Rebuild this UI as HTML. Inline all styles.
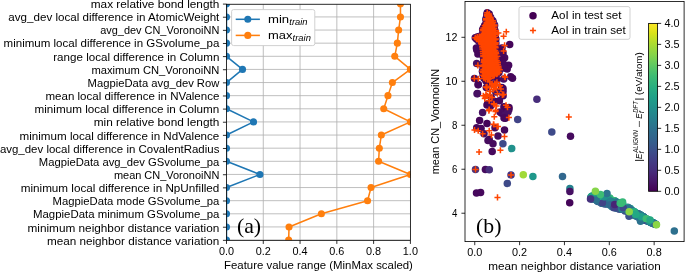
<!DOCTYPE html>
<html><head><meta charset="utf-8"><style>
html,body{margin:0;padding:0;background:#fff;width:685px;height:273px;overflow:hidden}
svg{display:block;will-change:transform;font-family:"Liberation Sans", sans-serif}
</style></head><body>
<svg width="685" height="273" viewBox="0 0 685 273">
<defs><clipPath id="ca"><rect x="226.5" y="4.25" width="183.9" height="236.1"/></clipPath>
<clipPath id="cb"><rect x="465" y="1.5" width="219.1" height="240.1"/></clipPath>
<linearGradient id="vg" x1="0" y1="0" x2="0" y2="1"><stop offset="0" stop-color="#fde725"/><stop offset="0.06" stop-color="#d8e219"/><stop offset="0.12" stop-color="#addc30"/><stop offset="0.19" stop-color="#84d44b"/><stop offset="0.25" stop-color="#5ec962"/><stop offset="0.31" stop-color="#3fbc73"/><stop offset="0.38" stop-color="#28ae80"/><stop offset="0.44" stop-color="#1fa088"/><stop offset="0.5" stop-color="#21918c"/><stop offset="0.56" stop-color="#26828e"/><stop offset="0.62" stop-color="#2c728e"/><stop offset="0.69" stop-color="#33638d"/><stop offset="0.75" stop-color="#3b528b"/><stop offset="0.81" stop-color="#424086"/><stop offset="0.88" stop-color="#472d7b"/><stop offset="0.94" stop-color="#48186a"/><stop offset="1" stop-color="#440154"/></linearGradient>
</defs>
<rect x="0" y="0" width="685" height="273" fill="#fff"/>
<path d="M263.28 4.25V240.35M300.06 4.25V240.35M336.84 4.25V240.35M373.62 4.25V240.35M226.5 3.8H410.4M226.5 16.93H410.4M226.5 30.05H410.4M226.5 43.17H410.4M226.5 56.3H410.4M226.5 69.42H410.4M226.5 82.55H410.4M226.5 95.67H410.4M226.5 108.8H410.4M226.5 121.92H410.4M226.5 135.05H410.4M226.5 148.18H410.4M226.5 161.3H410.4M226.5 174.43H410.4M226.5 187.55H410.4M226.5 200.68H410.4M226.5 213.8H410.4M226.5 226.93H410.4M226.5 240.05H410.4" stroke="#b0b0b0" stroke-width="0.82" fill="none" clip-path="url(#ca)"/>
<text x="236.9" y="232.7" font-family="'Liberation Serif', serif" font-size="20.6" textLength="24.2" lengthAdjust="spacingAndGlyphs" fill="#000">(a)</text>
<g clip-path="url(#ca)">
<polyline points="226.5,3.8 226.5,16.93 226.5,30.05 226.5,43.17 226.5,56.3 242.5,69.42 226.5,82.55 226.5,95.67 226.5,108.8 253.53,121.92 226.5,135.05 226.5,148.18 226.5,161.3 259.97,174.43 226.5,187.55 226.5,200.68 226.5,213.8 226.5,226.93 226.5,240.05" fill="none" stroke="#1f77b4" stroke-width="1.53" stroke-linejoin="round"/>
<circle cx="226.5" cy="3.8" r="3.55" fill="#1f77b4"/>
<circle cx="226.5" cy="16.93" r="3.55" fill="#1f77b4"/>
<circle cx="226.5" cy="30.05" r="3.55" fill="#1f77b4"/>
<circle cx="226.5" cy="43.17" r="3.55" fill="#1f77b4"/>
<circle cx="226.5" cy="56.3" r="3.55" fill="#1f77b4"/>
<circle cx="242.5" cy="69.42" r="3.55" fill="#1f77b4"/>
<circle cx="226.5" cy="82.55" r="3.55" fill="#1f77b4"/>
<circle cx="226.5" cy="95.67" r="3.55" fill="#1f77b4"/>
<circle cx="226.5" cy="108.8" r="3.55" fill="#1f77b4"/>
<circle cx="253.53" cy="121.92" r="3.55" fill="#1f77b4"/>
<circle cx="226.5" cy="135.05" r="3.55" fill="#1f77b4"/>
<circle cx="226.5" cy="148.18" r="3.55" fill="#1f77b4"/>
<circle cx="226.5" cy="161.3" r="3.55" fill="#1f77b4"/>
<circle cx="259.97" cy="174.43" r="3.55" fill="#1f77b4"/>
<circle cx="226.5" cy="187.55" r="3.55" fill="#1f77b4"/>
<circle cx="226.5" cy="200.68" r="3.55" fill="#1f77b4"/>
<circle cx="226.5" cy="213.8" r="3.55" fill="#1f77b4"/>
<circle cx="226.5" cy="226.93" r="3.55" fill="#1f77b4"/>
<circle cx="226.5" cy="240.05" r="3.55" fill="#1f77b4"/>
<polyline points="400.47,3.8 400.47,16.93 398.63,30.05 397.34,43.17 394.77,56.3 410.4,69.42 392.38,82.55 387.96,95.67 383.73,108.8 410.4,121.92 381.34,135.05 379.32,148.18 378.59,161.3 410.4,174.43 371.05,187.55 367.55,200.68 321.39,213.8 289.03,226.93 288.66,240.05" fill="none" stroke="#ff7f0e" stroke-width="1.53" stroke-linejoin="round"/>
<circle cx="400.47" cy="3.8" r="3.55" fill="#ff7f0e"/>
<circle cx="400.47" cy="16.93" r="3.55" fill="#ff7f0e"/>
<circle cx="398.63" cy="30.05" r="3.55" fill="#ff7f0e"/>
<circle cx="397.34" cy="43.17" r="3.55" fill="#ff7f0e"/>
<circle cx="394.77" cy="56.3" r="3.55" fill="#ff7f0e"/>
<circle cx="410.4" cy="69.42" r="3.55" fill="#ff7f0e"/>
<circle cx="392.38" cy="82.55" r="3.55" fill="#ff7f0e"/>
<circle cx="387.96" cy="95.67" r="3.55" fill="#ff7f0e"/>
<circle cx="383.73" cy="108.8" r="3.55" fill="#ff7f0e"/>
<circle cx="410.4" cy="121.92" r="3.55" fill="#ff7f0e"/>
<circle cx="381.34" cy="135.05" r="3.55" fill="#ff7f0e"/>
<circle cx="379.32" cy="148.18" r="3.55" fill="#ff7f0e"/>
<circle cx="378.59" cy="161.3" r="3.55" fill="#ff7f0e"/>
<circle cx="410.4" cy="174.43" r="3.55" fill="#ff7f0e"/>
<circle cx="371.05" cy="187.55" r="3.55" fill="#ff7f0e"/>
<circle cx="367.55" cy="200.68" r="3.55" fill="#ff7f0e"/>
<circle cx="321.39" cy="213.8" r="3.55" fill="#ff7f0e"/>
<circle cx="289.03" cy="226.93" r="3.55" fill="#ff7f0e"/>
<circle cx="288.66" cy="240.05" r="3.55" fill="#ff7f0e"/>
</g>
<rect x="226.5" y="4.25" width="183.9" height="236.1" fill="none" stroke="#000" stroke-width="0.82"/>
<path d="M222.93 4.1H226.5M222.93 17.23H226.5M222.93 30.35H226.5M222.93 43.47H226.5M222.93 56.6H226.5M222.93 69.72H226.5M222.93 82.85H226.5M222.93 95.97H226.5M222.93 109.1H226.5M222.93 122.22H226.5M222.93 135.35H226.5M222.93 148.48H226.5M222.93 161.6H226.5M222.93 174.73H226.5M222.93 187.85H226.5M222.93 200.98H226.5M222.93 214.1H226.5M222.93 227.23H226.5M222.93 240.35H226.5M226.5 240.35V243.92M263.28 240.35V243.92M300.06 240.35V243.92M336.84 240.35V243.92M373.62 240.35V243.92M410.4 240.35V243.92" stroke="#000" stroke-width="0.82" fill="none"/>
<text x="219.36" y="8.05" font-size="10.75" text-anchor="end" textLength="128.59" lengthAdjust="spacingAndGlyphs" fill="#000">max relative bond length</text>
<text x="219.36" y="21.18" font-size="10.75" text-anchor="end" textLength="210.99" lengthAdjust="spacingAndGlyphs" fill="#000">avg_dev local difference in AtomicWeight</text>
<text x="219.36" y="34.3" font-size="10.75" text-anchor="end" textLength="119.18" lengthAdjust="spacingAndGlyphs" fill="#000">avg_dev CN_VoronoiNN</text>
<text x="219.36" y="47.42" font-size="10.75" text-anchor="end" textLength="215.78" lengthAdjust="spacingAndGlyphs" fill="#000">minimum local difference in GSvolume_pa</text>
<text x="219.36" y="60.55" font-size="10.75" text-anchor="end" textLength="166.11" lengthAdjust="spacingAndGlyphs" fill="#000">range local difference in Column</text>
<text x="219.36" y="73.67" font-size="10.75" text-anchor="end" textLength="127.92" lengthAdjust="spacingAndGlyphs" fill="#000">maximum CN_VoronoiNN</text>
<text x="219.36" y="86.8" font-size="10.75" text-anchor="end" textLength="131.81" lengthAdjust="spacingAndGlyphs" fill="#000">MagpieData avg_dev Row</text>
<text x="219.36" y="99.92" font-size="10.75" text-anchor="end" textLength="173.84" lengthAdjust="spacingAndGlyphs" fill="#000">mean local difference in NValence</text>
<text x="219.36" y="113.05" font-size="10.75" text-anchor="end" textLength="184.85" lengthAdjust="spacingAndGlyphs" fill="#000">minimum local difference in Column</text>
<text x="219.36" y="126.17" font-size="10.75" text-anchor="end" textLength="125.6" lengthAdjust="spacingAndGlyphs" fill="#000">min relative bond length</text>
<text x="219.36" y="140" font-size="10.75" text-anchor="end" textLength="199.79" lengthAdjust="spacingAndGlyphs" fill="#000">minimum local difference in NdValence</text>
<text x="219.36" y="153" font-size="10.75" text-anchor="end" textLength="219.46" lengthAdjust="spacingAndGlyphs" fill="#000">avg_dev local difference in CovalentRadius</text>
<text x="219.36" y="165.55" font-size="10.75" text-anchor="end" textLength="180.59" lengthAdjust="spacingAndGlyphs" fill="#000">MagpieData avg_dev GSvolume_pa</text>
<text x="219.36" y="178.68" font-size="10.75" text-anchor="end" textLength="105.46" lengthAdjust="spacingAndGlyphs" fill="#000">mean CN_VoronoiNN</text>
<text x="219.36" y="191.8" font-size="10.75" text-anchor="end" textLength="198.67" lengthAdjust="spacingAndGlyphs" fill="#000">minimum local difference in NpUnfilled</text>
<text x="219.36" y="204.93" font-size="10.75" text-anchor="end" textLength="166.87" lengthAdjust="spacingAndGlyphs" fill="#000">MagpieData mode GSvolume_pa</text>
<text x="219.36" y="218.05" font-size="10.75" text-anchor="end" textLength="186.34" lengthAdjust="spacingAndGlyphs" fill="#000">MagpieData minimum GSvolume_pa</text>
<text x="219.36" y="232" font-size="10.75" text-anchor="end" textLength="191.87" lengthAdjust="spacingAndGlyphs" fill="#000">minimum neighbor distance variation</text>
<text x="219.36" y="245" font-size="10.75" text-anchor="end" textLength="172.4" lengthAdjust="spacingAndGlyphs" fill="#000">mean neighbor distance variation</text>
<text x="226.5" y="255.1" font-size="10.75" text-anchor="middle" textLength="15.12" lengthAdjust="spacingAndGlyphs" fill="#000">0.0</text>
<text x="263.28" y="255.1" font-size="10.75" text-anchor="middle" textLength="15.12" lengthAdjust="spacingAndGlyphs" fill="#000">0.2</text>
<text x="300.06" y="255.1" font-size="10.75" text-anchor="middle" textLength="15.12" lengthAdjust="spacingAndGlyphs" fill="#000">0.4</text>
<text x="336.84" y="255.1" font-size="10.75" text-anchor="middle" textLength="15.12" lengthAdjust="spacingAndGlyphs" fill="#000">0.6</text>
<text x="373.62" y="255.1" font-size="10.75" text-anchor="middle" textLength="15.12" lengthAdjust="spacingAndGlyphs" fill="#000">0.8</text>
<text x="410.4" y="255.1" font-size="10.75" text-anchor="middle" textLength="15.12" lengthAdjust="spacingAndGlyphs" fill="#000">1.0</text>
<text x="318.45" y="268.8" font-size="10.75" text-anchor="middle" textLength="188.93" lengthAdjust="spacingAndGlyphs" fill="#000">Feature value range (MinMax scaled)</text>
<rect x="231.6" y="9.6" width="83.2" height="36.0" rx="2" fill="#fff" stroke="#cccccc" stroke-width="0.9"/>
<path d="M235.7 19.3H259.9" stroke="#1f77b4" stroke-width="1.53"/>
<circle cx="247.8" cy="19.3" r="3.55" fill="#1f77b4"/>
<text x="268" y="22.7" font-size="11.83" text-anchor="start" textLength="21.16" lengthAdjust="spacingAndGlyphs" fill="#000">min</text>
<text x="289.31" y="24.54" font-size="8.28" text-anchor="start" textLength="18.28" lengthAdjust="spacingAndGlyphs" font-style="italic" fill="#000">train</text>
<path d="M235.7 35.4H259.9" stroke="#ff7f0e" stroke-width="1.53"/>
<circle cx="247.8" cy="35.4" r="3.55" fill="#ff7f0e"/>
<text x="268" y="38.8" font-size="11.83" text-anchor="start" textLength="24.45" lengthAdjust="spacingAndGlyphs" fill="#000">max</text>
<text x="292.6" y="40.64" font-size="8.28" text-anchor="start" textLength="18.28" lengthAdjust="spacingAndGlyphs" font-style="italic" fill="#000">train</text>
<g clip-path="url(#cb)">
<circle cx="487.26" cy="12.65" r="3.75" fill="#450559"/><circle cx="486.87" cy="14.56" r="3.75" fill="#440154"/><circle cx="487.01" cy="15.91" r="3.75" fill="#46085c"/><circle cx="486.03" cy="18.82" r="3.75" fill="#450559"/><circle cx="486.02" cy="20.08" r="3.75" fill="#48186a"/><circle cx="486.6" cy="22.34" r="3.75" fill="#471063"/><circle cx="486.05" cy="24.31" r="3.75" fill="#46085c"/><circle cx="484.68" cy="25.56" r="3.75" fill="#450559"/><circle cx="483.45" cy="28" r="3.75" fill="#440154"/><circle cx="482.68" cy="29.7" r="3.75" fill="#440154"/><circle cx="483.29" cy="30.81" r="3.75" fill="#48186a"/><circle cx="483.91" cy="33.36" r="3.75" fill="#450559"/><circle cx="482.54" cy="34.45" r="3.75" fill="#46085c"/><circle cx="481.37" cy="35.66" r="3.75" fill="#48186a"/><circle cx="479.23" cy="36.53" r="3.75" fill="#450559"/><circle cx="477.26" cy="36.96" r="3.75" fill="#46085c"/><circle cx="475.29" cy="37.69" r="3.75" fill="#46085c"/><circle cx="476.77" cy="39.26" r="3.75" fill="#440154"/><circle cx="478.58" cy="39.78" r="3.75" fill="#48186a"/><circle cx="478.92" cy="41.5" r="3.75" fill="#46085c"/><circle cx="481.13" cy="43.35" r="3.75" fill="#48186a"/><circle cx="481.86" cy="44.83" r="3.75" fill="#450559"/><circle cx="482.2" cy="46.87" r="3.75" fill="#471063"/><circle cx="482.45" cy="49.06" r="3.75" fill="#46085c"/><circle cx="482.9" cy="51.43" r="3.75" fill="#48186a"/><circle cx="483.02" cy="53.46" r="3.75" fill="#46085c"/><circle cx="483.24" cy="55.54" r="3.75" fill="#471063"/><circle cx="483.25" cy="56.53" r="3.75" fill="#46085c"/><circle cx="483.72" cy="59.48" r="3.75" fill="#471063"/><circle cx="483.89" cy="61" r="3.75" fill="#46085c"/><circle cx="483.66" cy="62.57" r="3.75" fill="#471063"/><circle cx="483.8" cy="65" r="3.75" fill="#48186a"/><circle cx="482.93" cy="66.38" r="3.75" fill="#471063"/><circle cx="483.37" cy="69.48" r="3.75" fill="#440154"/><circle cx="482.43" cy="71.24" r="3.75" fill="#471063"/><circle cx="483.05" cy="72.45" r="3.75" fill="#450559"/><circle cx="483.15" cy="75.17" r="3.75" fill="#450559"/><circle cx="484.04" cy="76.29" r="3.75" fill="#440154"/><circle cx="483.93" cy="78.29" r="3.75" fill="#471063"/><circle cx="485.63" cy="79.08" r="3.75" fill="#48186a"/><circle cx="487.75" cy="79.37" r="3.75" fill="#48186a"/><circle cx="489.16" cy="78.65" r="3.75" fill="#471063"/><circle cx="490.78" cy="76.8" r="3.75" fill="#48186a"/><circle cx="492.92" cy="75.85" r="3.75" fill="#450559"/><circle cx="494.23" cy="75.41" r="3.75" fill="#440154"/><circle cx="496.44" cy="74.1" r="3.75" fill="#471063"/><circle cx="497.36" cy="73.76" r="3.75" fill="#48186a"/><circle cx="498.96" cy="72.42" r="3.75" fill="#46085c"/><circle cx="499.74" cy="69.81" r="3.75" fill="#48186a"/><circle cx="498.73" cy="68.04" r="3.75" fill="#46085c"/><circle cx="498.47" cy="66.19" r="3.75" fill="#450559"/><circle cx="497.89" cy="64.27" r="3.75" fill="#440154"/><circle cx="497.88" cy="62.19" r="3.75" fill="#48186a"/><circle cx="496.81" cy="60.5" r="3.75" fill="#46085c"/><circle cx="496.25" cy="58.03" r="3.75" fill="#440154"/><circle cx="496.99" cy="56.3" r="3.75" fill="#450559"/><circle cx="496.32" cy="53.69" r="3.75" fill="#440154"/><circle cx="496.01" cy="52.38" r="3.75" fill="#440154"/><circle cx="495.22" cy="50.45" r="3.75" fill="#48186a"/><circle cx="495.63" cy="47.8" r="3.75" fill="#450559"/><circle cx="495.36" cy="46.31" r="3.75" fill="#471063"/><circle cx="495.6" cy="44.18" r="3.75" fill="#48186a"/><circle cx="495.81" cy="42.65" r="3.75" fill="#440154"/><circle cx="495.17" cy="39.85" r="3.75" fill="#440154"/><circle cx="495.86" cy="38.94" r="3.75" fill="#471063"/><circle cx="495.17" cy="36.34" r="3.75" fill="#440154"/><circle cx="495.41" cy="34.18" r="3.75" fill="#450559"/><circle cx="495.2" cy="32.17" r="3.75" fill="#48186a"/><circle cx="494.86" cy="30.57" r="3.75" fill="#46085c"/><circle cx="494.21" cy="28.38" r="3.75" fill="#450559"/><circle cx="494.46" cy="26.01" r="3.75" fill="#440154"/><circle cx="494.55" cy="24.9" r="3.75" fill="#48186a"/><circle cx="493.24" cy="22.55" r="3.75" fill="#48186a"/><circle cx="492.81" cy="20.84" r="3.75" fill="#471063"/><circle cx="491.03" cy="19.37" r="3.75" fill="#440154"/><circle cx="490.59" cy="17.27" r="3.75" fill="#48186a"/><circle cx="489.29" cy="15.74" r="3.75" fill="#440154"/><circle cx="489.18" cy="14" r="3.75" fill="#46085c"/><circle cx="476.4" cy="48" r="3.75" fill="#46085c"/><circle cx="476.7" cy="49.7" r="3.75" fill="#460b5e"/><circle cx="477.9" cy="54" r="3.75" fill="#46085c"/><circle cx="476.7" cy="63.6" r="3.75" fill="#471063"/><circle cx="509.7" cy="44.5" r="3.75" fill="#450559"/><circle cx="504.6" cy="57.7" r="3.75" fill="#460b5e"/><circle cx="508.6" cy="65.3" r="3.75" fill="#46085c"/><circle cx="507.2" cy="69" r="3.75" fill="#46085c"/><circle cx="502" cy="48" r="3.75" fill="#450559"/><circle cx="503" cy="53" r="3.75" fill="#46085c"/><circle cx="502.5" cy="60" r="3.75" fill="#450559"/><circle cx="503.5" cy="64" r="3.75" fill="#46085c"/><circle cx="504" cy="68" r="3.75" fill="#46085c"/><circle cx="512.5" cy="78.3" r="3.75" fill="#460b5e"/><circle cx="474.5" cy="78.4" r="3.75" fill="#46085c"/><circle cx="503" cy="88.6" r="3.75" fill="#450559"/><circle cx="503.7" cy="79" r="3.75" fill="#471063"/><circle cx="497" cy="80" r="3.75" fill="#46085c"/><circle cx="492" cy="84" r="3.75" fill="#471063"/><circle cx="478.2" cy="84.7" r="3.75" fill="#450559"/><circle cx="477.5" cy="93.5" r="3.75" fill="#460b5e"/><circle cx="486.3" cy="87.6" r="3.75" fill="#46085c"/><circle cx="501.7" cy="87.6" r="3.75" fill="#460b5e"/><circle cx="503.1" cy="95.7" r="3.75" fill="#46085c"/><circle cx="487.7" cy="103.7" r="3.75" fill="#46085c"/><circle cx="495" cy="101.5" r="3.75" fill="#46085c"/><circle cx="503.9" cy="106.7" r="3.75" fill="#471063"/><circle cx="509" cy="107.4" r="3.75" fill="#450559"/><circle cx="495.8" cy="92" r="3.75" fill="#471063"/><circle cx="491.4" cy="97.9" r="3.75" fill="#460b5e"/><circle cx="487" cy="105.1" r="3.75" fill="#450559"/><circle cx="490.6" cy="105.9" r="3.75" fill="#450559"/><circle cx="499.4" cy="100.7" r="3.75" fill="#46085c"/><circle cx="504.5" cy="107.3" r="3.75" fill="#450559"/><circle cx="508.9" cy="109.5" r="3.75" fill="#450559"/><circle cx="501.6" cy="113.2" r="3.75" fill="#450559"/><circle cx="505.3" cy="118.3" r="3.75" fill="#450559"/><circle cx="482.6" cy="112.4" r="3.75" fill="#471063"/><circle cx="479.6" cy="120.5" r="3.75" fill="#450559"/><circle cx="487" cy="123.4" r="3.75" fill="#450559"/><circle cx="476.7" cy="127.8" r="3.75" fill="#46085c"/><circle cx="481.1" cy="128.5" r="3.75" fill="#46085c"/><circle cx="484" cy="133.7" r="3.75" fill="#471063"/><circle cx="495" cy="127.8" r="3.75" fill="#460b5e"/><circle cx="504.5" cy="130" r="3.75" fill="#46085c"/><circle cx="498" cy="135.9" r="3.75" fill="#460b5e"/><circle cx="489.2" cy="139.5" r="3.75" fill="#450559"/><circle cx="500" cy="112" r="3.75" fill="#460b5e"/><circle cx="505" cy="115" r="3.75" fill="#471063"/><circle cx="508" cy="112" r="3.75" fill="#471063"/><circle cx="504" cy="118" r="3.75" fill="#46085c"/><circle cx="493" cy="143.8" r="3.75" fill="#460b5e"/><circle cx="488" cy="140.5" r="3.75" fill="#460b5e"/><circle cx="502.9" cy="143.8" r="3.75" fill="#3e4a89"/><circle cx="517.7" cy="119.4" r="3.75" fill="#414487"/><circle cx="536.9" cy="99.3" r="3.75" fill="#472d7b"/><circle cx="551.8" cy="132.1" r="3.75" fill="#3e4a89"/><circle cx="570.5" cy="136.2" r="3.75" fill="#460b5e"/><circle cx="511.7" cy="148.6" r="3.75" fill="#21918c"/><circle cx="492.2" cy="151.4" r="3.75" fill="#46085c"/><circle cx="475.5" cy="169.4" r="3.75" fill="#46327e"/><circle cx="485.4" cy="169.4" r="3.75" fill="#460b5e"/><circle cx="489.3" cy="169.8" r="3.75" fill="#472d7b"/><circle cx="511" cy="175" r="3.75" fill="#46327e"/><circle cx="523.3" cy="174.8" r="3.75" fill="#a0da39"/><circle cx="532.9" cy="176.4" r="3.75" fill="#1f988b"/><circle cx="562.5" cy="176.5" r="3.75" fill="#31688e"/><circle cx="507.3" cy="183.4" r="3.75" fill="#3e4a89"/><circle cx="569.9" cy="188.4" r="3.75" fill="#26828e"/><circle cx="569.9" cy="191.4" r="3.75" fill="#471063"/><circle cx="569.7" cy="202.7" r="3.75" fill="#450559"/><circle cx="476.5" cy="192.9" r="3.75" fill="#46085c"/><circle cx="480.6" cy="192.4" r="3.75" fill="#46085c"/><circle cx="674.3" cy="231" r="3.75" fill="#2d708e"/><circle cx="478.2" cy="84.5" r="3.75" fill="#450559"/><circle cx="477.1" cy="93.8" r="3.75" fill="#471063"/><circle cx="486" cy="81" r="3.75" fill="#450559"/><circle cx="489" cy="83" r="3.75" fill="#46085c"/><circle cx="501.9" cy="87.8" r="3.75" fill="#46085c"/><circle cx="510.7" cy="76.8" r="3.75" fill="#450559"/><circle cx="503" cy="91.6" r="3.75" fill="#460b5e"/><circle cx="607.8" cy="198.65" r="3.75" fill="#26828e"/><circle cx="593.79" cy="197.8" r="3.75" fill="#2c728e"/><circle cx="625" cy="210.96" r="3.75" fill="#3b528b"/><circle cx="592.26" cy="197.42" r="3.75" fill="#21918c"/><circle cx="602.77" cy="200.26" r="3.75" fill="#31688e"/><circle cx="642.74" cy="216.66" r="3.75" fill="#2a788e"/><circle cx="628.38" cy="210.43" r="3.75" fill="#31688e"/><circle cx="624.61" cy="207.66" r="3.75" fill="#2a788e"/><circle cx="592.64" cy="198.59" r="3.75" fill="#2c728e"/><circle cx="613.9" cy="204.22" r="3.75" fill="#3e4a89"/><circle cx="606.85" cy="203.95" r="3.75" fill="#3b528b"/><circle cx="595.25" cy="198.32" r="3.75" fill="#3b528b"/><circle cx="610.87" cy="203.11" r="3.75" fill="#31688e"/><circle cx="623.72" cy="208.65" r="3.75" fill="#414487"/><circle cx="631.95" cy="211.48" r="3.75" fill="#2c728e"/><circle cx="616.97" cy="208.26" r="3.75" fill="#2c728e"/><circle cx="606.31" cy="203.57" r="3.75" fill="#2a788e"/><circle cx="639.23" cy="214.29" r="3.75" fill="#31688e"/><circle cx="621.01" cy="209.24" r="3.75" fill="#2a788e"/><circle cx="615.86" cy="205.5" r="3.75" fill="#31688e"/><circle cx="596.01" cy="197.78" r="3.75" fill="#2c728e"/><circle cx="597.78" cy="198.5" r="3.75" fill="#26828e"/><circle cx="653.05" cy="222.8" r="3.75" fill="#2c728e"/><circle cx="608.82" cy="200.7" r="3.75" fill="#22a884"/><circle cx="624.8" cy="208.12" r="3.75" fill="#21918c"/><circle cx="651.71" cy="222.42" r="3.75" fill="#21918c"/><circle cx="593.25" cy="198.19" r="3.75" fill="#2a788e"/><circle cx="624.66" cy="209.43" r="3.75" fill="#414487"/><circle cx="605.39" cy="199.79" r="3.75" fill="#2c728e"/><circle cx="591.69" cy="197.58" r="3.75" fill="#1f9e89"/><circle cx="626.98" cy="209.32" r="3.75" fill="#2a788e"/><circle cx="638.37" cy="213.96" r="3.75" fill="#2a788e"/><circle cx="612.51" cy="206.76" r="3.75" fill="#414487"/><circle cx="594.17" cy="197.57" r="3.75" fill="#31688e"/><circle cx="647.01" cy="220.79" r="3.75" fill="#26828e"/><circle cx="622.74" cy="208.8" r="3.75" fill="#2c728e"/><circle cx="632.12" cy="211.34" r="3.75" fill="#2a788e"/><circle cx="597.72" cy="196.64" r="3.75" fill="#2a788e"/><circle cx="630.37" cy="208.41" r="3.75" fill="#1f9e89"/><circle cx="604.07" cy="196.11" r="3.75" fill="#35b779"/><circle cx="621.66" cy="207.72" r="3.75" fill="#2c728e"/><circle cx="652.36" cy="222.89" r="3.75" fill="#3e4a89"/><circle cx="652.14" cy="222.77" r="3.75" fill="#2a788e"/><circle cx="592.96" cy="198.7" r="3.75" fill="#26828e"/><circle cx="652.27" cy="222.85" r="3.75" fill="#3e4a89"/><circle cx="612.15" cy="202.38" r="3.75" fill="#21918c"/><circle cx="618.04" cy="204.8" r="3.75" fill="#2a788e"/><circle cx="593.55" cy="196.65" r="3.75" fill="#1f9e89"/><circle cx="595.59" cy="198.55" r="3.75" fill="#31688e"/><circle cx="591" cy="196.93" r="3.75" fill="#21918c"/><circle cx="652.04" cy="222.69" r="3.75" fill="#31688e"/><circle cx="646.33" cy="220.04" r="3.75" fill="#3b528b"/><circle cx="628.65" cy="212.56" r="3.75" fill="#3e4a89"/><circle cx="610.34" cy="199.3" r="3.75" fill="#22a884"/><circle cx="655.46" cy="224.2" r="3.75" fill="#22a884"/><circle cx="607.06" cy="198.34" r="3.75" fill="#2c728e"/><circle cx="636.31" cy="214.27" r="3.75" fill="#1f9e89"/><circle cx="620.41" cy="204.43" r="3.75" fill="#2c728e"/><circle cx="597.49" cy="198.76" r="3.75" fill="#31688e"/><circle cx="637.62" cy="214.24" r="3.75" fill="#21918c"/><circle cx="633.09" cy="211.34" r="3.75" fill="#2c728e"/><circle cx="648.91" cy="220.89" r="3.75" fill="#2a788e"/><circle cx="621.52" cy="208.79" r="3.75" fill="#2c728e"/><circle cx="628.79" cy="210.77" r="3.75" fill="#26828e"/><circle cx="654.83" cy="224.02" r="3.75" fill="#26828e"/><circle cx="602.69" cy="198.97" r="3.75" fill="#2a788e"/><circle cx="600.42" cy="199.11" r="3.75" fill="#26828e"/><circle cx="655.19" cy="224.15" r="3.75" fill="#414487"/><circle cx="603.86" cy="201.84" r="3.75" fill="#2c728e"/><circle cx="615.75" cy="207.97" r="3.75" fill="#2c728e"/><circle cx="652.51" cy="222.72" r="3.75" fill="#2a788e"/><circle cx="595.21" cy="197.86" r="3.75" fill="#2c728e"/><circle cx="600.67" cy="200.18" r="3.75" fill="#3e4a89"/><circle cx="643.76" cy="218.4" r="3.75" fill="#2c728e"/><circle cx="640.7" cy="215.23" r="3.75" fill="#21918c"/><circle cx="649.03" cy="221.57" r="3.75" fill="#26828e"/><circle cx="600.38" cy="202.1" r="3.75" fill="#414487"/><circle cx="639.92" cy="215.77" r="3.75" fill="#35b779"/><circle cx="616.81" cy="206.86" r="3.75" fill="#31688e"/><circle cx="635.17" cy="212.18" r="3.75" fill="#1f9e89"/><circle cx="591.87" cy="197.9" r="3.75" fill="#414487"/><circle cx="641.22" cy="215.79" r="3.75" fill="#22a884"/><circle cx="630.28" cy="210.1" r="3.75" fill="#1f9e89"/><circle cx="591.64" cy="198.47" r="3.75" fill="#2a788e"/><circle cx="629.74" cy="210.72" r="3.75" fill="#3b528b"/><circle cx="614.86" cy="207.17" r="3.75" fill="#26828e"/><circle cx="646.29" cy="218.68" r="3.75" fill="#2a788e"/><circle cx="605.9" cy="198.74" r="3.75" fill="#2c728e"/><circle cx="603.87" cy="199.54" r="3.75" fill="#1f9e89"/><circle cx="593.26" cy="198.32" r="3.75" fill="#414487"/><circle cx="630.66" cy="212.7" r="3.75" fill="#3e4a89"/><circle cx="613.99" cy="207.25" r="3.75" fill="#3e4a89"/><circle cx="596.66" cy="196.48" r="3.75" fill="#26828e"/><circle cx="646.21" cy="220.36" r="3.75" fill="#3e4a89"/><circle cx="591.08" cy="198.51" r="3.75" fill="#3b528b"/><circle cx="597.22" cy="199.12" r="3.75" fill="#31688e"/><circle cx="623.17" cy="206.55" r="3.75" fill="#22a884"/><circle cx="639.56" cy="214.6" r="3.75" fill="#26828e"/><circle cx="603.23" cy="198.11" r="3.75" fill="#21918c"/><circle cx="619.82" cy="206.66" r="3.75" fill="#26828e"/><circle cx="647.82" cy="219.75" r="3.75" fill="#2c728e"/><circle cx="627.1" cy="209.44" r="3.75" fill="#3e4a89"/><circle cx="600.39" cy="197.47" r="3.75" fill="#22a884"/><circle cx="619.82" cy="204.46" r="3.75" fill="#31688e"/><circle cx="650.02" cy="222.12" r="3.75" fill="#3b528b"/><circle cx="643.73" cy="217.33" r="3.75" fill="#21918c"/><circle cx="612.15" cy="201.69" r="3.75" fill="#2a788e"/><circle cx="614.5" cy="201.88" r="3.75" fill="#31688e"/><circle cx="639.53" cy="217.91" r="3.75" fill="#3b528b"/><circle cx="651.31" cy="222.39" r="3.75" fill="#2c728e"/><circle cx="597.3" cy="200.63" r="3.75" fill="#414487"/><circle cx="601.54" cy="203.17" r="3.75" fill="#414487"/><circle cx="647.13" cy="219.5" r="3.75" fill="#2a788e"/><circle cx="598.29" cy="198.26" r="3.75" fill="#35b779"/><circle cx="608.76" cy="199.37" r="3.75" fill="#2c728e"/><circle cx="594.72" cy="197.34" r="3.75" fill="#2c728e"/><circle cx="623" cy="207.2" r="3.75" fill="#26828e"/><circle cx="611.63" cy="203.15" r="3.75" fill="#2c728e"/><circle cx="620.13" cy="203.33" r="3.75" fill="#2a788e"/><circle cx="653.8" cy="223.23" r="3.75" fill="#31688e"/><circle cx="604.62" cy="203.91" r="3.75" fill="#3b528b"/><circle cx="604.53" cy="197.33" r="3.75" fill="#35b779"/><circle cx="644.45" cy="219.33" r="3.75" fill="#2c728e"/><circle cx="613.03" cy="203.85" r="3.75" fill="#3e4a89"/><circle cx="624.15" cy="209.34" r="3.75" fill="#31688e"/><circle cx="605.05" cy="203.16" r="3.75" fill="#3b528b"/><circle cx="614.3" cy="200.68" r="3.75" fill="#26828e"/><circle cx="628.65" cy="211.73" r="3.75" fill="#31688e"/><circle cx="626.79" cy="207.67" r="3.75" fill="#31688e"/><circle cx="645.45" cy="219.21" r="3.75" fill="#2c728e"/><circle cx="655.56" cy="224.24" r="3.75" fill="#31688e"/><circle cx="627.75" cy="207.14" r="3.75" fill="#2a788e"/><circle cx="651.2" cy="222.66" r="3.75" fill="#2c728e"/><circle cx="592.8" cy="196.65" r="3.75" fill="#31688e"/><circle cx="628.24" cy="210.08" r="3.75" fill="#3b528b"/><circle cx="605.71" cy="200.87" r="3.75" fill="#3b528b"/><circle cx="604.54" cy="203.02" r="3.75" fill="#2c728e"/><circle cx="592.24" cy="196.26" r="3.75" fill="#2a788e"/><circle cx="620.26" cy="204.64" r="3.75" fill="#22a884"/><circle cx="595.41" cy="199.47" r="3.75" fill="#414487"/><circle cx="630.23" cy="211.08" r="3.75" fill="#414487"/><circle cx="653.69" cy="223.28" r="3.75" fill="#2a788e"/><circle cx="654.63" cy="223.77" r="3.75" fill="#1f9e89"/><circle cx="612.95" cy="202.29" r="3.75" fill="#26828e"/><circle cx="643.5" cy="216.8" r="3.75" fill="#31688e"/><circle cx="614.66" cy="200.71" r="3.75" fill="#35b779"/><circle cx="646.04" cy="220.04" r="3.75" fill="#2c728e"/><circle cx="626.13" cy="210.1" r="3.75" fill="#31688e"/><circle cx="616.56" cy="202.37" r="3.75" fill="#22a884"/><circle cx="591.08" cy="197.43" r="3.75" fill="#2c728e"/><circle cx="653.87" cy="223.48" r="3.75" fill="#3b528b"/><circle cx="592.14" cy="198.68" r="3.75" fill="#3b528b"/><circle cx="609.86" cy="198.1" r="3.75" fill="#35b779"/><circle cx="594.32" cy="196.95" r="3.75" fill="#2a788e"/><circle cx="603.21" cy="202.31" r="3.75" fill="#31688e"/><circle cx="604.16" cy="196.86" r="3.75" fill="#35b779"/><circle cx="625.28" cy="207.96" r="3.75" fill="#31688e"/><circle cx="606.59" cy="198.92" r="3.75" fill="#1f9e89"/><circle cx="630.3" cy="212" r="3.75" fill="#3e4a89"/><circle cx="611.97" cy="201.7" r="3.75" fill="#22a884"/><circle cx="597.64" cy="199.86" r="3.75" fill="#2a788e"/><circle cx="597.39" cy="200.34" r="3.75" fill="#2a788e"/><circle cx="647.67" cy="220.7" r="3.75" fill="#2a788e"/><circle cx="633.44" cy="212.73" r="3.75" fill="#3e4a89"/><circle cx="637.24" cy="215.21" r="3.75" fill="#26828e"/><circle cx="641.08" cy="218.38" r="3.75" fill="#3e4a89"/><circle cx="640.58" cy="217.7" r="3.75" fill="#2a788e"/><circle cx="629.25" cy="208.16" r="3.75" fill="#26828e"/><circle cx="596.78" cy="197.6" r="3.75" fill="#21918c"/><circle cx="611.14" cy="202.4" r="3.75" fill="#26828e"/><circle cx="628.18" cy="210.58" r="3.75" fill="#2a788e"/><circle cx="602.99" cy="197.92" r="3.75" fill="#22a884"/><circle cx="640.56" cy="217.84" r="3.75" fill="#3e4a89"/><circle cx="648.12" cy="219.99" r="3.75" fill="#21918c"/><circle cx="636.71" cy="214.48" r="3.75" fill="#21918c"/><circle cx="644.19" cy="217.9" r="3.75" fill="#2a788e"/><circle cx="602.19" cy="200.88" r="3.75" fill="#414487"/><circle cx="618.88" cy="205.02" r="3.75" fill="#22a884"/><circle cx="649.08" cy="220.88" r="3.75" fill="#26828e"/><circle cx="627.41" cy="210.35" r="3.75" fill="#31688e"/><circle cx="626.19" cy="208.02" r="3.75" fill="#31688e"/><circle cx="627.71" cy="207.63" r="3.75" fill="#22a884"/><circle cx="593.25" cy="196.83" r="3.75" fill="#21918c"/><circle cx="632.8" cy="213.19" r="3.75" fill="#2c728e"/><circle cx="634.01" cy="212.01" r="3.75" fill="#22a884"/><circle cx="617.02" cy="202.29" r="3.75" fill="#2a788e"/><circle cx="607.05" cy="197.84" r="3.75" fill="#22a884"/><circle cx="591.51" cy="197.6" r="3.75" fill="#22a884"/><circle cx="655.53" cy="224.22" r="3.75" fill="#2a788e"/><circle cx="593.89" cy="196.24" r="3.75" fill="#31688e"/><circle cx="652.33" cy="222.45" r="3.75" fill="#31688e"/><circle cx="647.28" cy="220.67" r="3.75" fill="#3b528b"/><circle cx="619.15" cy="208.63" r="3.75" fill="#414487"/><circle cx="591.77" cy="196.35" r="3.75" fill="#22a884"/><circle cx="632.03" cy="211.42" r="3.75" fill="#1f9e89"/><circle cx="613.7" cy="202.83" r="3.75" fill="#21918c"/><circle cx="643.75" cy="216.92" r="3.75" fill="#2c728e"/><circle cx="643.66" cy="217.23" r="3.75" fill="#2a788e"/><circle cx="634.31" cy="215.12" r="3.75" fill="#2c728e"/><circle cx="603.51" cy="196.43" r="3.75" fill="#35b779"/><circle cx="655.91" cy="224.43" r="3.75" fill="#2c728e"/><circle cx="650.23" cy="222.04" r="3.75" fill="#26828e"/><circle cx="592.71" cy="196.38" r="3.75" fill="#31688e"/><circle cx="628.69" cy="208.21" r="3.75" fill="#31688e"/><circle cx="615.02" cy="202.91" r="3.75" fill="#2c728e"/><circle cx="639.62" cy="215.99" r="3.75" fill="#26828e"/><circle cx="641.62" cy="217.87" r="3.75" fill="#3e4a89"/><circle cx="622.67" cy="208.86" r="3.75" fill="#31688e"/><circle cx="650.85" cy="221.94" r="3.75" fill="#1f9e89"/><circle cx="629.37" cy="209.28" r="3.75" fill="#26828e"/><circle cx="649.19" cy="221.31" r="3.75" fill="#3b528b"/><circle cx="617.41" cy="204.13" r="3.75" fill="#31688e"/><circle cx="603.66" cy="202.15" r="3.75" fill="#2a788e"/><circle cx="603.92" cy="201.55" r="3.75" fill="#2c728e"/><circle cx="618.15" cy="206.8" r="3.75" fill="#31688e"/><circle cx="598.61" cy="196.56" r="3.75" fill="#2a788e"/><circle cx="619.33" cy="208.24" r="3.75" fill="#3e4a89"/><circle cx="601.57" cy="202.8" r="3.75" fill="#26828e"/><circle cx="615.93" cy="201.95" r="3.75" fill="#2a788e"/><circle cx="602.97" cy="197.16" r="3.75" fill="#21918c"/><circle cx="607.52" cy="200.39" r="3.75" fill="#2a788e"/><circle cx="647.31" cy="220.77" r="3.75" fill="#414487"/><circle cx="611.54" cy="205.02" r="3.75" fill="#3b528b"/><circle cx="611.15" cy="201.46" r="3.75" fill="#26828e"/><circle cx="619.17" cy="206.49" r="3.75" fill="#2c728e"/><circle cx="596.41" cy="198.28" r="3.75" fill="#2a788e"/><circle cx="640.01" cy="217.96" r="3.75" fill="#31688e"/><circle cx="604.57" cy="198.34" r="3.75" fill="#35b779"/><circle cx="629.46" cy="210.1" r="3.75" fill="#31688e"/><circle cx="644.38" cy="219.86" r="3.75" fill="#31688e"/><circle cx="596.48" cy="197.89" r="3.75" fill="#22a884"/><circle cx="653.53" cy="223.3" r="3.75" fill="#21918c"/><circle cx="612.1" cy="206.71" r="3.75" fill="#26828e"/><circle cx="621.2" cy="206.57" r="3.75" fill="#22a884"/><circle cx="603.22" cy="196.7" r="3.75" fill="#1f9e89"/><circle cx="597.78" cy="201.39" r="3.75" fill="#31688e"/><circle cx="651.46" cy="222.53" r="3.75" fill="#2a788e"/><circle cx="644.22" cy="219.86" r="3.75" fill="#31688e"/><circle cx="622.83" cy="204.53" r="3.75" fill="#1f9e89"/><circle cx="602.29" cy="203.19" r="3.75" fill="#2a788e"/><circle cx="634.46" cy="215.48" r="3.75" fill="#2a788e"/><circle cx="603.42" cy="201.21" r="3.75" fill="#2a788e"/><circle cx="638.05" cy="213.63" r="3.75" fill="#31688e"/><circle cx="620.96" cy="207.24" r="3.75" fill="#414487"/><circle cx="603.96" cy="202.7" r="3.75" fill="#31688e"/><circle cx="591.27" cy="197.24" r="3.75" fill="#22a884"/><circle cx="605.02" cy="199.08" r="3.75" fill="#2a788e"/><circle cx="617.62" cy="203.42" r="3.75" fill="#2a788e"/><circle cx="591.94" cy="197.41" r="3.75" fill="#31688e"/><circle cx="593.01" cy="196.58" r="3.75" fill="#35b779"/><circle cx="594.19" cy="196.75" r="3.75" fill="#35b779"/><circle cx="650.21" cy="221.41" r="3.75" fill="#26828e"/><circle cx="633.06" cy="213.55" r="3.75" fill="#2c728e"/><circle cx="632.1" cy="210.43" r="3.75" fill="#31688e"/><circle cx="636.22" cy="214.34" r="3.75" fill="#3b528b"/><circle cx="619" cy="203.77" r="3.75" fill="#2a788e"/><circle cx="602.19" cy="197.28" r="3.75" fill="#31688e"/><circle cx="595.55" cy="198.64" r="3.75" fill="#3e4a89"/><circle cx="599.71" cy="197.02" r="3.75" fill="#35b779"/><circle cx="649.08" cy="220.55" r="3.75" fill="#1f9e89"/><circle cx="649.96" cy="221.07" r="3.75" fill="#26828e"/><circle cx="653.99" cy="223.35" r="3.75" fill="#26828e"/><circle cx="634.08" cy="211.57" r="3.75" fill="#22a884"/><circle cx="648.14" cy="221.37" r="3.75" fill="#2a788e"/><circle cx="595.76" cy="196.14" r="3.75" fill="#1f9e89"/><circle cx="608.14" cy="199.06" r="3.75" fill="#22a884"/><circle cx="592.04" cy="198.08" r="3.75" fill="#414487"/><circle cx="643.66" cy="219.93" r="3.75" fill="#414487"/><circle cx="598.71" cy="195.53" r="3.75" fill="#31688e"/><circle cx="594.17" cy="197.47" r="3.75" fill="#21918c"/><circle cx="623.49" cy="209.44" r="3.75" fill="#414487"/><circle cx="609.86" cy="205.07" r="3.75" fill="#26828e"/><circle cx="641.02" cy="215.44" r="3.75" fill="#22a884"/><circle cx="600.18" cy="199.42" r="3.75" fill="#414487"/><circle cx="600.03" cy="198.08" r="3.75" fill="#22a884"/><circle cx="591.98" cy="197.4" r="3.75" fill="#35b779"/><circle cx="592.39" cy="196.27" r="3.75" fill="#21918c"/><circle cx="640.98" cy="215.31" r="3.75" fill="#2a788e"/><circle cx="636.82" cy="216.45" r="3.75" fill="#2c728e"/><circle cx="610.26" cy="201.08" r="3.75" fill="#26828e"/><circle cx="604.04" cy="202.1" r="3.75" fill="#2c728e"/><circle cx="650.14" cy="221.46" r="3.75" fill="#21918c"/><circle cx="591.75" cy="196.97" r="3.75" fill="#22a884"/><circle cx="634.5" cy="213.16" r="3.75" fill="#35b779"/><circle cx="639.97" cy="218.21" r="3.75" fill="#26828e"/><circle cx="618.85" cy="208.9" r="3.75" fill="#3b528b"/><circle cx="591.22" cy="198.83" r="3.75" fill="#2c728e"/><circle cx="642.43" cy="218.74" r="3.75" fill="#3e4a89"/><circle cx="602.5" cy="202.77" r="3.75" fill="#414487"/><circle cx="610.19" cy="204.85" r="3.75" fill="#31688e"/><circle cx="620.1" cy="205.59" r="3.75" fill="#1f9e89"/><circle cx="603.16" cy="196.3" r="3.75" fill="#26828e"/><circle cx="618.05" cy="205.86" r="3.75" fill="#3b528b"/><circle cx="654.46" cy="223.88" r="3.75" fill="#31688e"/><circle cx="604.2" cy="196.83" r="3.75" fill="#21918c"/><circle cx="614.02" cy="207.82" r="3.75" fill="#414487"/><circle cx="598.93" cy="196.38" r="3.75" fill="#22a884"/><circle cx="627.65" cy="210.62" r="3.75" fill="#2a788e"/><circle cx="621.93" cy="208.92" r="3.75" fill="#26828e"/><circle cx="596.16" cy="199.9" r="3.75" fill="#2c728e"/><circle cx="623.2" cy="207.8" r="3.75" fill="#3e4a89"/><circle cx="629" cy="216.2" r="3.75" fill="#3b528b"/><circle cx="640.5" cy="221.3" r="3.75" fill="#2c728e"/><circle cx="622.6" cy="202" r="3.75" fill="#35b779"/><circle cx="635.4" cy="214.2" r="3.75" fill="#22a884"/><circle cx="641.2" cy="216.8" r="3.75" fill="#1f9e89"/><circle cx="646.3" cy="218.7" r="3.75" fill="#3dbc74"/><circle cx="650.1" cy="220" r="3.75" fill="#26a983"/><circle cx="590.5" cy="198.9" r="3.75" fill="#46327e"/><circle cx="607" cy="193.4" r="3.75" fill="#2c728e"/><circle cx="600.4" cy="194.5" r="3.75" fill="#3dbc74"/><circle cx="614.7" cy="204.4" r="3.75" fill="#482475"/><circle cx="620.2" cy="203.3" r="3.75" fill="#35b779"/><circle cx="621.3" cy="203.3" r="3.75" fill="#3bbb75"/><circle cx="636" cy="214.2" r="3.75" fill="#22a884"/><circle cx="595.4" cy="191.2" r="3.75" fill="#86d549"/><circle cx="629.2" cy="211.7" r="3.75" fill="#8bd646"/><circle cx="656.5" cy="224.7" r="3.75" fill="#8bd646"/>
<path d="M487.58 12.6L487.13 13.15L486.79 17.2L486.77 17.36L485.77 23.86L485.72 24.1L485.65 24.33L485.55 24.56L485.44 24.77L485.3 24.97L483.1 27.81L482.68 28.83L482.62 30.04L483.46 32.39L483.53 32.61L483.57 32.84L483.6 33.07L483.6 33.3L483.58 33.52L483.54 33.75L483.47 33.97L483.39 34.18L483.28 34.39L483.16 34.58L483.02 34.76L482.86 34.93L482.69 35.08L482.5 35.22L482.3 35.33L482.1 35.43L481.88 35.5L481.66 35.56L476 36.65L475.4 37.1L475.4 37.31L477.2 39.1L477.39 39.32L479.89 42.52L479.92 42.56L481.42 44.56L481.56 44.77L481.68 44.99L481.77 45.23L481.84 45.47L482.74 49.47L482.79 49.73L482.8 50L482.8 54.86L483.38 59.71L483.4 60L483.4 65L483.38 65.29L482.82 70L483.38 74.71L483.39 74.76L483.82 79.1L484.08 79.45L486.4 79.16L491.02 77.31L495.73 74.95L498.96 72.53L499.5 70.9L498.17 65.58L498.17 65.56L496.97 60.56L496.95 60.5L496.65 59.1L496.61 58.78L496.11 52.28L495.23 46.89L495.21 46.69L495.2 46.48L495.21 46.28L495.79 39.9L495.31 34.62L495.3 34.32L495.39 31.71L494.2 27.68L494.15 27.46L494.11 27.24L494.1 27.02L494.11 26.8L494.14 26.58L494.48 24.64L492.74 21.63L490.05 17.26L489.95 17.06L489.86 16.86L488.44 13.17L487.58 12.6Z" fill="#ff4500"/>
<path d="M503.24 31.7H509.36M506.3 28.64V34.76M500.54 36.3H506.66M503.6 33.24V39.36M501.54 45.4H507.66M504.6 42.34V48.46M500.54 51H506.66M503.6 47.94V54.06M474.84 65.4H480.96M477.9 62.34V68.46M495.34 33H501.46M498.4 29.94V36.06M471.24 78.4H477.36M474.3 75.34V81.46M475.34 78.8H481.46M478.4 75.74V81.86M501.54 76.6H507.66M504.6 73.54V79.66M483.94 86.9H490.06M487 83.84V89.96M489.04 83.9H495.16M492.1 80.84V86.96M493.44 84.7H499.56M496.5 81.64V87.76M491.24 87.6H497.36M494.3 84.54V90.66M497.84 89H503.96M500.9 85.94V92.06M480.24 95.7H486.36M483.3 92.64V98.76M486.84 96.4H492.96M489.9 93.34V99.46M481.74 98.6H487.86M484.8 95.54V101.66M499.34 94.9H505.46M502.4 91.84V97.96M486.14 100.8H492.26M489.2 97.74V103.86M490.54 103.7H496.66M493.6 100.64V106.76M502.94 105.2H509.06M506 102.14V108.26M493.44 105.9H499.56M496.5 102.84V108.96M491.24 104.4H497.36M494.3 101.34V107.46M486.14 109.5H492.26M489.2 106.44V112.56M492.64 110.2H498.76M495.7 107.14V113.26M504.44 107.3H510.56M507.5 104.24V110.36M491.24 116.8H497.36M494.3 113.74V119.86M505.84 117.6H511.96M508.9 114.54V120.66M490.44 124.2H496.56M493.5 121.14V127.26M494.94 126.4H501.06M498 123.34V129.46M471.44 130H477.56M474.5 126.94V133.06M475.14 130.7H481.26M478.2 127.64V133.76M479.54 133.7H485.66M482.6 130.64V136.76M486.14 130.7H492.26M489.2 127.64V133.76M488.34 135.1H494.46M491.4 132.04V138.16M501.44 136.6H507.56M504.5 133.54V139.66M485.84 110.8H491.96M488.9 107.74V113.86M492.44 111.6H498.56M495.5 108.54V114.66M490.74 124.5H496.86M493.8 121.44V127.56M494.04 126.5H500.16M497.1 123.44V129.56M476.04 152H482.16M479.1 148.94V155.06M497.34 150.2H503.46M500.4 147.14V153.26M483.94 87.8H490.06M487 84.74V90.86M488.34 86.1H494.46M491.4 83.04V89.16M492.24 84.5H498.36M495.3 81.44V87.56M493.84 82.3H499.96M496.9 79.24V85.36M496.64 86.1H502.76M499.7 83.04V89.16M490.54 89.4H496.66M493.6 86.34V92.46M486.74 91.6H492.86M489.8 88.54V94.66M482.84 94.4H488.96M485.9 91.34V97.46M484.54 96H490.66M487.6 92.94V99.06M494.44 93.8H500.56M497.5 90.74V96.86M499.34 94.4H505.46M502.4 91.34V97.46M502.14 77.3H508.26M505.2 74.24V80.36M486.74 82H492.86M489.8 78.94V85.06M491.84 83.5H497.96M494.9 80.44V86.56M483.04 87.1H489.16M486.1 84.04V90.16M493.34 88.6H499.46M496.4 85.54V91.66M496.94 85.7H503.06M500 82.64V88.76M487.44 91.5H493.56M490.5 88.44V94.56M500.64 94.5H506.76M503.7 91.44V97.56M483.04 95.2H489.16M486.1 92.14V98.26M488.94 97.4H495.06M492 94.34V100.46M472.44 169.4H478.56M475.5 166.34V172.46M507.94 175H514.06M511 171.94V178.06M494.44 197.4H500.56M497.5 194.34V200.46M565.74 116.9H571.86M568.8 113.84V119.96M484.2 12.65H490.32M487.26 9.59V15.71M483.81 14.56H489.93M486.87 11.5V17.62M483.95 15.91H490.07M487.01 12.85V18.97M482.97 18.82H489.09M486.03 15.76V21.88M482.96 20.08H489.08M486.02 17.02V23.14M483.54 22.34H489.66M486.6 19.28V25.4M482.99 24.31H489.11M486.05 21.25V27.37M481.62 25.56H487.74M484.68 22.5V28.62M480.39 28H486.51M483.45 24.94V31.06M479.62 29.7H485.74M482.68 26.64V32.76M480.23 30.81H486.35M483.29 27.75V33.87M480.85 33.36H486.97M483.91 30.3V36.42M479.48 34.45H485.6M482.54 31.39V37.51M478.31 35.66H484.43M481.37 32.6V38.72M476.17 36.53H482.29M479.23 33.47V39.59M474.2 36.96H480.32M477.26 33.9V40.02M472.23 37.69H478.35M475.29 34.63V40.75M473.71 39.26H479.83M476.77 36.2V42.32M475.52 39.78H481.64M478.58 36.72V42.84M475.86 41.5H481.98M478.92 38.44V44.56M478.07 43.35H484.19M481.13 40.29V46.41M478.8 44.83H484.92M481.86 41.77V47.89M479.14 46.87H485.26M482.2 43.81V49.93M479.39 49.06H485.51M482.45 46V52.12M479.84 51.43H485.96M482.9 48.37V54.49M479.96 53.46H486.08M483.02 50.4V56.52M480.18 55.54H486.3M483.24 52.48V58.6M480.19 56.53H486.31M483.25 53.47V59.59M480.66 59.48H486.78M483.72 56.42V62.54M480.83 61H486.95M483.89 57.94V64.06M480.6 62.57H486.72M483.66 59.51V65.63M480.74 65H486.86M483.8 61.94V68.06M479.87 66.38H485.99M482.93 63.32V69.44M480.31 69.48H486.43M483.37 66.42V72.54M479.37 71.24H485.49M482.43 68.18V74.3M479.99 72.45H486.11M483.05 69.39V75.51M480.09 75.17H486.21M483.15 72.11V78.23M480.98 76.29H487.1M484.04 73.23V79.35M480.87 78.29H486.99M483.93 75.23V81.35M482.57 79.08H488.69M485.63 76.02V82.14M484.69 79.37H490.81M487.75 76.31V82.43M486.1 78.65H492.22M489.16 75.59V81.71M487.72 76.8H493.84M490.78 73.74V79.86M489.86 75.85H495.98M492.92 72.79V78.91M491.17 75.41H497.29M494.23 72.35V78.47M493.38 74.1H499.5M496.44 71.04V77.16M494.3 73.76H500.42M497.36 70.7V76.82M495.9 72.42H502.02M498.96 69.36V75.48M496.68 69.81H502.8M499.74 66.75V72.87M495.67 68.04H501.79M498.73 64.98V71.1M495.41 66.19H501.53M498.47 63.13V69.25M494.83 64.27H500.95M497.89 61.21V67.33M494.82 62.19H500.94M497.88 59.13V65.25M493.75 60.5H499.87M496.81 57.44V63.56M493.19 58.03H499.31M496.25 54.97V61.09M493.93 56.3H500.05M496.99 53.24V59.36M493.26 53.69H499.38M496.32 50.63V56.75M492.95 52.38H499.07M496.01 49.32V55.44M492.16 50.45H498.28M495.22 47.39V53.51M492.57 47.8H498.69M495.63 44.74V50.86M492.3 46.31H498.42M495.36 43.25V49.37M492.54 44.18H498.66M495.6 41.12V47.24M492.75 42.65H498.87M495.81 39.59V45.71M492.11 39.85H498.23M495.17 36.79V42.91M492.8 38.94H498.92M495.86 35.88V42M492.11 36.34H498.23M495.17 33.28V39.4M492.35 34.18H498.47M495.41 31.12V37.24M492.14 32.17H498.26M495.2 29.11V35.23M491.8 30.57H497.92M494.86 27.51V33.63M491.15 28.38H497.27M494.21 25.32V31.44M491.4 26.01H497.52M494.46 22.95V29.07M491.49 24.9H497.61M494.55 21.84V27.96M490.18 22.55H496.3M493.24 19.49V25.61M489.75 20.84H495.87M492.81 17.78V23.9M487.97 19.37H494.09M491.03 16.31V22.43M487.53 17.27H493.65M490.59 14.21V20.33M486.23 15.74H492.35M489.29 12.68V18.8M486.12 14H492.24M489.18 10.94V17.06" stroke="#ff4500" stroke-width="1.53" fill="none"/>
</g>
<rect x="465" y="1.5" width="219.1" height="240.1" fill="none" stroke="#000" stroke-width="0.82"/>
<path d="M474.75 241.6V245.17M519.6 241.6V245.17M564.45 241.6V245.17M609.3 241.6V245.17M654.15 241.6V245.17M461.43 213.22H465M461.43 169.24H465M461.43 125.26H465M461.43 81.28H465M461.43 37.3H465" stroke="#000" stroke-width="0.82" fill="none"/>
<text x="474.75" y="256.3" font-size="10.75" text-anchor="middle" textLength="15.12" lengthAdjust="spacingAndGlyphs" fill="#000">0.0</text>
<text x="519.6" y="256.3" font-size="10.75" text-anchor="middle" textLength="15.12" lengthAdjust="spacingAndGlyphs" fill="#000">0.2</text>
<text x="564.45" y="256.3" font-size="10.75" text-anchor="middle" textLength="15.12" lengthAdjust="spacingAndGlyphs" fill="#000">0.4</text>
<text x="609.3" y="256.3" font-size="10.75" text-anchor="middle" textLength="15.12" lengthAdjust="spacingAndGlyphs" fill="#000">0.6</text>
<text x="654.15" y="256.3" font-size="10.75" text-anchor="middle" textLength="15.12" lengthAdjust="spacingAndGlyphs" fill="#000">0.8</text>
<text x="457.4" y="216.92" font-size="10.75" text-anchor="end" textLength="5.39" lengthAdjust="spacingAndGlyphs" fill="#000">4</text>
<text x="457.4" y="172.94" font-size="10.75" text-anchor="end" textLength="5.39" lengthAdjust="spacingAndGlyphs" fill="#000">6</text>
<text x="457.4" y="128.96" font-size="10.75" text-anchor="end" textLength="5.39" lengthAdjust="spacingAndGlyphs" fill="#000">8</text>
<text x="457.4" y="84.98" font-size="10.75" text-anchor="end" textLength="11.88" lengthAdjust="spacingAndGlyphs" fill="#000">10</text>
<text x="457.4" y="41" font-size="10.75" text-anchor="end" textLength="11.88" lengthAdjust="spacingAndGlyphs" fill="#000">12</text>
<text x="574.55" y="270" font-size="10.75" text-anchor="middle" textLength="172.4" lengthAdjust="spacingAndGlyphs" fill="#000">mean neighbor distance variation</text>
<g transform="translate(438.8,121.55) rotate(-90)">
<text x="0" y="0" font-size="10.75" text-anchor="middle" textLength="105.46" lengthAdjust="spacingAndGlyphs" fill="#000">mean CN_VoronoiNN</text>
</g>
<text x="476.1" y="233.2" font-family="'Liberation Serif', serif" font-size="20.6" textLength="25.4" lengthAdjust="spacingAndGlyphs" fill="#000">(b)</text>
<rect x="519" y="6.6" width="111" height="32.7" rx="2" fill="#fff" stroke="#cccccc" stroke-width="0.9"/>
<circle cx="533" cy="15.7" r="3.75" fill="#440154"/>
<path d="M529.94 30.5H536.06M533 27.44V33.56" stroke="#ff4500" stroke-width="1.53"/>
<text x="551.3" y="18.7" font-size="10.75" text-anchor="start" textLength="70.25" lengthAdjust="spacingAndGlyphs" fill="#000">AoI in test set</text>
<text x="551.3" y="33.5" font-size="10.75" text-anchor="start" textLength="74.4" lengthAdjust="spacingAndGlyphs" fill="#000">AoI in train set</text>
<rect x="648.6" y="23.4" width="9" height="167.9" fill="url(#vg)" stroke="#000" stroke-width="0.82"/>
<text x="664.5" y="195" font-size="10.75" text-anchor="start" textLength="15.12" lengthAdjust="spacingAndGlyphs" fill="#000">0.0</text>
<text x="664.5" y="174.01" font-size="10.75" text-anchor="start" textLength="15.12" lengthAdjust="spacingAndGlyphs" fill="#000">0.5</text>
<text x="664.5" y="153.03" font-size="10.75" text-anchor="start" textLength="15.12" lengthAdjust="spacingAndGlyphs" fill="#000">1.0</text>
<text x="664.5" y="132.04" font-size="10.75" text-anchor="start" textLength="15.12" lengthAdjust="spacingAndGlyphs" fill="#000">1.5</text>
<text x="664.5" y="111.05" font-size="10.75" text-anchor="start" textLength="15.12" lengthAdjust="spacingAndGlyphs" fill="#000">2.0</text>
<text x="664.5" y="90.06" font-size="10.75" text-anchor="start" textLength="15.12" lengthAdjust="spacingAndGlyphs" fill="#000">2.5</text>
<text x="664.5" y="69.08" font-size="10.75" text-anchor="start" textLength="15.12" lengthAdjust="spacingAndGlyphs" fill="#000">3.0</text>
<text x="664.5" y="48.09" font-size="10.75" text-anchor="start" textLength="15.12" lengthAdjust="spacingAndGlyphs" fill="#000">3.5</text>
<text x="664.5" y="27.1" font-size="10.75" text-anchor="start" textLength="15.12" lengthAdjust="spacingAndGlyphs" fill="#000">4.0</text>
<path d="M657.6 191.3H661.17M657.6 170.31H661.17M657.6 149.33H661.17M657.6 128.34H661.17M657.6 107.35H661.17M657.6 86.36H661.17M657.6 65.38H661.17M657.6 44.39H661.17M657.6 23.4H661.17" stroke="#000" stroke-width="0.82" fill="none"/>
<g transform="translate(641.5,161.8) rotate(-90)">
<text x="0" y="0" font-size="8.97" text-anchor="start" textLength="2.86" lengthAdjust="spacingAndGlyphs" fill="#000">|</text>
<text x="2.92" y="0" font-size="8.97" text-anchor="start" textLength="5.37" lengthAdjust="spacingAndGlyphs" font-style="italic" fill="#000">E</text>
<text x="9.01" y="-3.4" font-size="6.28" text-anchor="start" textLength="22.65" lengthAdjust="spacingAndGlyphs" font-style="italic" fill="#000">ALIGNN</text>
<text x="8.4" y="2.38" font-size="6.28" text-anchor="start" textLength="2.09" lengthAdjust="spacingAndGlyphs" font-style="italic" fill="#000">f</text>
<text x="34.04" y="0" font-size="8.97" text-anchor="start" textLength="7.12" lengthAdjust="spacingAndGlyphs" fill="#000">−</text>
<text x="42.99" y="0" font-size="8.97" text-anchor="start" textLength="5.37" lengthAdjust="spacingAndGlyphs" font-style="italic" fill="#000">E</text>
<text x="49.08" y="-3.32" font-size="6.28" text-anchor="start" textLength="11.64" lengthAdjust="spacingAndGlyphs" font-style="italic" fill="#000">DFT</text>
<text x="48.47" y="2.38" font-size="6.28" text-anchor="start" textLength="2.09" lengthAdjust="spacingAndGlyphs" font-style="italic" fill="#000">f</text>
<text x="61.19" y="0" font-size="8.97" text-anchor="start" textLength="2.86" lengthAdjust="spacingAndGlyphs" fill="#000">|</text>
<text x="66.92" y="0" font-size="8.97" text-anchor="start" textLength="42.56" lengthAdjust="spacingAndGlyphs" fill="#000">(eV/atom)</text>
</g>
</svg>
</body></html>
